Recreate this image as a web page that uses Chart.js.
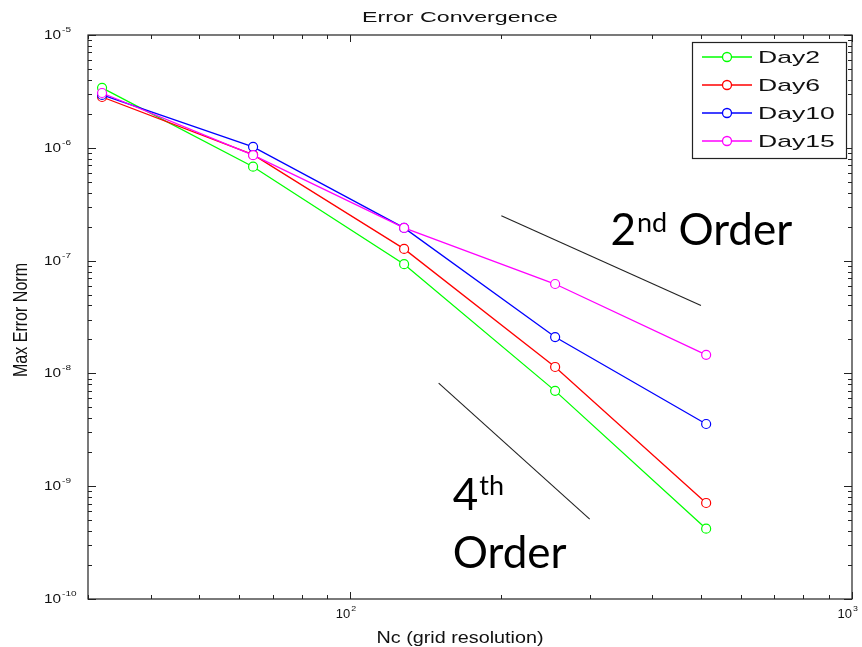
<!DOCTYPE html>
<html>
<head>
<meta charset="utf-8">
<script src="https://cdn.jsdelivr.net/npm/chart.js@4/dist/chart.umd.min.js"></script>
<style>
  body { margin: 0; background: #fff; }
  canvas { display: block; }
</style>
</head>
<body>
<canvas id="c1" width="862" height="647"></canvas>
<script>
// grid sizes and max error per run day
var gridN = [32, 64, 128, 256, 512];
var day2 = [3.4e-6, 6.8e-7, 9.3e-8, 7.0e-9, 4.2e-10];
var day6 = [2.82e-6, 8.7e-7, 1.27e-7, 1.14e-8, 7.1e-10];
var day10 = [2.94e-6, 1.02e-6, 1.95e-7, 2.1e-8, 3.56e-9];
var day15 = [3.06e-6, 8.6e-7, 1.95e-7, 6.2e-8, 1.46e-8];
var seriesNames = ["Day2", "Day6", "Day10", "Day15"];
var seriesColors = ["#00ff00", "#ff0000", "#0000ff", "#ff00ff"];

// slope guides
var order2X = [200, 500];
var order2Y = [2.5e-7, 4.0e-8];
var order4X = [150, 300];
var order4Y = [8.2e-9, 5.1e-10];

// axis decades (exponents)
var xDecades = [2, 3];
var yDecades = [-5, -6, -7, -8, -9, -10];

function pts(xs, ys) {
  return xs.map(function (x, i) { return { x: x, y: ys[i] }; });
}

var allSeries = [day2, day6, day10, day15];
var datasets = allSeries.map(function (s, i) {
  return {
    label: seriesNames[i],
    data: pts(gridN, s),
    borderColor: seriesColors[i],
    backgroundColor: "#ffffff",
    borderWidth: 1.3,
    pointRadius: 4.5,
    pointBorderWidth: 1.2,
    showLine: true,
    order: 10 - i
  };
});
[[order2X, order2Y], [order4X, order4Y]].forEach(function (g) {
  datasets.push({
    label: "",
    data: pts(g[0], g[1]),
    borderColor: "#222",
    borderWidth: 1.1,
    pointRadius: 0,
    showLine: true,
    order: 20
  });
});

// text drawn horizontally squeezed/stretched to a given width
function fitText(ctx, txt, x, y, font, width, align) {
  ctx.save();
  ctx.font = font;
  var sx = width / ctx.measureText(txt).width;
  ctx.translate(x, y);
  ctx.scale(sx, 1);
  ctx.textAlign = align || "center";
  ctx.fillText(txt, 0, 0);
  ctx.restore();
}

function scaledText(ctx, txt, x, y, font, sx, align) {
  ctx.save();
  ctx.font = font;
  ctx.translate(x, y);
  ctx.scale(sx, 1);
  ctx.textAlign = align || "left";
  ctx.fillText(txt, 0, 0);
  var w = ctx.measureText(txt).width * sx;
  ctx.restore();
  return w;
}

var frame = {
  id: "frame",
  afterDraw: function (chart) {
    var ctx = chart.ctx;
    var a = chart.chartArea;
    var xs = chart.scales.x, ys = chart.scales.y;
    ctx.save();
    ctx.strokeStyle = "#222";
    ctx.fillStyle = "#111";
    ctx.lineWidth = 1.2;
    ctx.strokeRect(a.left, a.top, a.right - a.left, a.bottom - a.top);

    // ticks, pointing inward on all four sides
    ctx.lineWidth = 1;
    ctx.beginPath();
    var d, k, v, p;
    for (d = 1; d <= 3; d++) {
      for (k = 1; k <= 9; k++) {
        v = k * Math.pow(10, d);
        if (v < xs.min || v > xs.max) continue;
        p = Math.round(xs.getPixelForValue(v)) + 0.5;
        var len = k == 1 ? 7 : 4;
        ctx.moveTo(p, a.bottom); ctx.lineTo(p, a.bottom - len);
        ctx.moveTo(p, a.top); ctx.lineTo(p, a.top + len);
      }
    }
    for (d = -10; d <= -5; d++) {
      for (k = 1; k <= 9; k++) {
        v = k * Math.pow(10, d);
        if (v < ys.min || v > ys.max * 1.0001) continue;
        p = Math.round(ys.getPixelForValue(v)) + 0.5;
        var len2 = k == 1 ? 8 : 4;
        ctx.moveTo(a.left, p); ctx.lineTo(a.left + len2, p);
        ctx.moveTo(a.right, p); ctx.lineTo(a.right - len2, p);
      }
    }
    ctx.stroke();

    // tick labels as powers of ten
    yDecades.forEach(function (e) {
      var py = ys.getPixelForValue(Math.pow(10, e));
      var w = scaledText(ctx, "10", 44, py + 4, "12px 'Liberation Sans'", 1.28);
      scaledText(ctx, String(e), 44 + w + 1, py - 3, "8px 'Liberation Sans'", 1.25);
    });
    xDecades.forEach(function (e) {
      var px = xs.getPixelForValue(Math.pow(10, e));
      scaledText(ctx, "10", px, a.bottom + 19, "13px 'Liberation Sans'", 1.0, "right");
      scaledText(ctx, String(e), px + 1, a.bottom + 12, "8px 'Liberation Sans'", 1.1);
    });

    // titles
    fitText(ctx, "Error Convergence", 460, 22, "14px 'Liberation Sans'", 196);
    fitText(ctx, "Nc (grid resolution)", 460, 643, "17px 'Liberation Sans'", 167);
    ctx.save();
    ctx.font = "15px 'Liberation Sans'";
    var lw = ctx.measureText("Max Error Norm").width;
    ctx.translate(27, 320);
    ctx.rotate(-Math.PI / 2);
    ctx.scale(114 / lw, 1.35);
    ctx.textAlign = "center";
    ctx.fillText("Max Error Norm", 0, 0);
    ctx.restore();

    // legend
    var bx = 692, by = 42, bw = 154, bh = 116;
    ctx.fillStyle = "#fff";
    ctx.fillRect(bx, by, bw, bh);
    ctx.strokeStyle = "#222";
    ctx.lineWidth = 1.2;
    ctx.strokeRect(bx + 0.5, by + 0.5, bw, bh);
    ctx.font = "16px 'Liberation Sans'";
    var sx = 62 / ctx.measureText("Day2").width;
    seriesNames.forEach(function (name, i) {
      var ry = 57 + i * 28;
      ctx.strokeStyle = seriesColors[i];
      ctx.lineWidth = 1.3;
      ctx.beginPath();
      ctx.moveTo(702, ry); ctx.lineTo(752, ry);
      ctx.stroke();
      ctx.beginPath();
      ctx.fillStyle = "#fff";
      ctx.arc(727, ry, 4.5, 0, Math.PI * 2);
      ctx.fill();
      ctx.stroke();
      ctx.fillStyle = "#111";
      scaledText(ctx, name, 758, ry + 6, "17px 'Liberation Sans'", sx * 16 / 17);
    });

    // slope annotations
    ctx.fillStyle = "#000";
    var nx = xs.getPixelForValue(330), ny = ys.getPixelForValue(1.37e-7);
    var w1 = scaledText(ctx, "2", nx, ny, "44px Lato", 1);
    var w2 = scaledText(ctx, "nd", nx + w1 + 1, ny - 13, "27px Lato", 1);
    scaledText(ctx, " Order", nx + w1 + w2 + 1, ny, "44px Lato", 1);

    var fx = xs.getPixelForValue(160);
    var fy = ys.getPixelForValue(6.15e-10);
    var w3 = scaledText(ctx, "4", fx, fy, "44px Lato", 1);
    scaledText(ctx, "th", fx + w3 + 1, fy - 15, "27px Lato", 1);
    scaledText(ctx, "Order", fx, ys.getPixelForValue(1.88e-10), "44px Lato", 1);
    ctx.restore();
  }
};

var ctx = document.getElementById("c1").getContext("2d");
var chart = new Chart(ctx, {
  type: "scatter",
  data: { datasets: datasets },
  options: {
    responsive: false,
    animation: false,
    devicePixelRatio: 1,
    layout: { padding: { left: 88, top: 35, right: 10, bottom: 48 } },
    plugins: {
      legend: { display: false },
      tooltip: { enabled: false },
      title: { display: false }
    },
    scales: {
      x: { type: "logarithmic", min: 30, max: 1000, display: false },
      y: { type: "logarithmic", min: 1e-10, max: 1e-5, display: false }
    }
  },
  plugins: [frame]
});
</script>
</body>
</html>
